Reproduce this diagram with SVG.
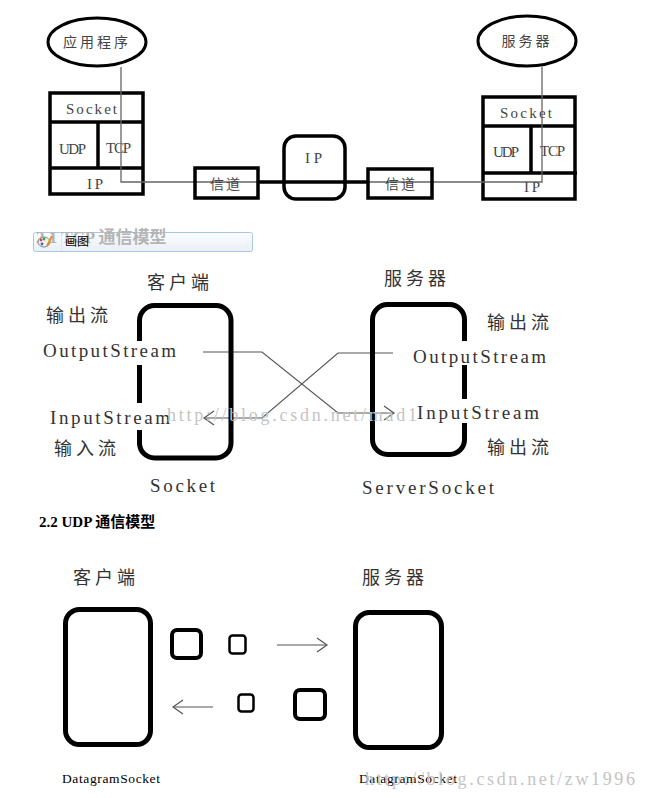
<svg xmlns="http://www.w3.org/2000/svg" width="647" height="798" viewBox="0 0 647 798">
<style>
.bg{fill:#ffffff}
.thick{fill:none;stroke:#000;stroke-width:3.5}
.box{fill:#fff;stroke:#000;stroke-width:3.5}
.rbox{fill:none;stroke:#000;stroke-width:5}
.thin{fill:none;stroke:#666;stroke-width:1.3}
.lbl{font-family:"Liberation Serif","DejaVu Serif",serif;fill:#444;font-size:15px}
.cjk{font-family:"Noto Sans CJK SC","Noto Sans",sans-serif;fill:#444}
.mid{font-family:"Liberation Serif","DejaVu Serif",serif;fill:#333;font-size:19px}
.midc{font-family:"Noto Sans CJK SC","Noto Sans",sans-serif;fill:#333;font-size:18px;letter-spacing:4px}
.wm{font-family:"Liberation Serif","DejaVu Serif",serif;fill:#c4c4c4;font-size:18px}
.ds{font-family:"Liberation Serif","DejaVu Serif",serif;fill:#000;font-size:13.5px}
.head{font-family:"Liberation Serif","Noto Sans CJK SC",serif;font-weight:bold}
</style>
<defs>
<marker id="chev" markerUnits="userSpaceOnUse" markerWidth="14" markerHeight="18" refX="11" refY="8" orient="auto">
<path d="M1,1 L11,8 L1,15" fill="none" stroke="#555" stroke-width="1.2"/>
</marker>
<linearGradient id="bar" x1="0" y1="0" x2="0" y2="1">
<stop offset="0" stop-color="#fbfdff"/>
<stop offset="1" stop-color="#eaeff6"/>
</linearGradient>
</defs>
<rect class="bg" x="0" y="0" width="647" height="798"/>

<!-- ===== Top: network stack ===== -->
<g id="app-left">
<ellipse cx="97" cy="42" rx="49" ry="24" fill="#fff" stroke="#000" stroke-width="3"/>
<text class="cjk" x="97" y="47" font-size="14" text-anchor="middle" letter-spacing="3">应用程序</text>
</g>
<g id="server-top">
<ellipse cx="527" cy="41" rx="49" ry="25" fill="#fff" stroke="#000" stroke-width="3"/>
<text class="cjk" x="527" y="46" font-size="14" text-anchor="middle" letter-spacing="3">服务器</text>
</g>
<g id="stack-left">
<rect class="box" x="50" y="93" width="93" height="101"/>
<line class="thick" x1="50" y1="122" x2="143" y2="122"/>
<line class="thick" x1="50" y1="168" x2="143" y2="168"/>
<line class="thick" x1="98" y1="122" x2="98" y2="168"/>
<text class="lbl" x="66" y="114" textLength="51" lengthAdjust="spacing">Socket</text>
<text class="lbl" x="59" y="154" textLength="27" lengthAdjust="spacing">UDP</text>
<text class="lbl" x="106" y="153" textLength="25" lengthAdjust="spacing">TCP</text>
<text class="lbl" x="87" y="189" textLength="16" lengthAdjust="spacing">IP</text>
</g>
<g id="stack-right">
<rect class="box" x="483" y="97" width="92" height="102"/>
<line class="thick" x1="483" y1="126" x2="575" y2="126"/>
<line class="thick" x1="483" y1="173" x2="577" y2="173"/>
<line class="thick" x1="531" y1="126" x2="531" y2="173"/>
<text class="lbl" x="500" y="118" textLength="52" lengthAdjust="spacing">Socket</text>
<text class="lbl" x="493" y="157" textLength="26" lengthAdjust="spacing">UDP</text>
<text class="lbl" x="540" y="156" textLength="25" lengthAdjust="spacing">TCP</text>
<text class="lbl" x="524" y="192" textLength="16" lengthAdjust="spacing">IP</text>
</g>
<g id="ip-router">
<rect x="284" y="136" width="61" height="63" rx="12" fill="#fff" stroke="#000" stroke-width="3.5"/>
<text class="lbl" x="305" y="163" textLength="17" lengthAdjust="spacing">IP</text>
</g>
<g id="connectors">
<polyline class="thin" points="121,67 121,182 259,182"/>
<polyline class="thin" points="367,182 542,182 542,67"/>
<line x1="259" y1="182" x2="368" y2="182" stroke="#000" stroke-width="3.5"/>
<polyline fill="none" stroke="#555" stroke-width="1.2" points="203,352 262,352 338,413 394,413" marker-end="url(#chev)"/>
<polyline fill="none" stroke="#555" stroke-width="1.2" points="393,353 338,353 262,418 204,418" marker-end="url(#chev)"/>
<line x1="277" y1="645" x2="327" y2="645" stroke="#555" stroke-width="1.2" marker-end="url(#chev)"/>
<line x1="213" y1="707" x2="173" y2="707" stroke="#555" stroke-width="1.2" marker-end="url(#chev)"/>
</g>
<g id="channel-left">
<rect x="195" y="168" width="63" height="30" fill="none" stroke="#000" stroke-width="3.5"/>
<text class="cjk" x="226" y="189" font-size="14" text-anchor="middle" letter-spacing="2">信道</text>
</g>
<g id="channel-right">
<rect x="368" y="169" width="64" height="29" fill="none" stroke="#000" stroke-width="3.5"/>
<text class="cjk" x="401" y="189" font-size="14" text-anchor="middle" letter-spacing="2">信道</text>
</g>

<!-- banner -->
<g id="banner">
<rect x="33.5" y="232.5" width="219" height="19" rx="2" fill="url(#bar)" stroke="#a9c6e8"/>
<text class="head" x="36" y="243" font-size="17" fill="#b4b4b4">2.1 TCP 通信模型</text>
<line x1="61.5" y1="234" x2="61.5" y2="250" stroke="#dde6f0"/>
<ellipse cx="44" cy="242" rx="6" ry="5" fill="#f4f0e8" stroke="#7a8aa0" stroke-width="1"/>
<circle cx="41" cy="240" r="1.4" fill="#e04040"/>
<circle cx="44" cy="239" r="1.4" fill="#40a040"/>
<circle cx="42" cy="244" r="1.4" fill="#4060e0"/>
<line x1="47" y1="246" x2="52" y2="236" stroke="#e09020" stroke-width="2"/>
<text x="65" y="246" font-family="Noto Sans CJK SC,sans-serif" font-size="12" fill="#000">画图</text>
</g>

<!-- ===== Middle: TCP model ===== -->
<g id="client-tcp">
<rect class="rbox" x="139.5" y="305.5" width="91.5" height="152.5" rx="15"/>
<rect x="132" y="341" width="16" height="24" fill="#fff"/>
<rect x="132" y="403" width="16" height="27" fill="#fff"/>
<text class="midc" x="180" y="289" text-anchor="middle">客户端</text>
<text class="midc" x="79" y="322" text-anchor="middle">输出流</text>
<text class="mid" x="43" y="357" textLength="133" lengthAdjust="spacing">OutputStream</text>
<text class="mid" x="50" y="424" textLength="120" lengthAdjust="spacing">InputStream</text>
<text class="midc" x="87" y="455" text-anchor="middle">输入流</text>
<text class="mid" x="150" y="492" textLength="65" lengthAdjust="spacing">Socket</text>
</g>
<g id="server-tcp">
<rect class="rbox" x="372.5" y="304.5" width="92" height="150" rx="15"/>
<rect x="458" y="341" width="16" height="24" fill="#fff"/>
<rect x="458" y="399" width="16" height="24" fill="#fff"/>
<text class="midc" x="417" y="285" text-anchor="middle">服务器</text>
<text class="midc" x="520" y="329" text-anchor="middle">输出流</text>
<text class="mid" x="413" y="363" textLength="133" lengthAdjust="spacing">OutputStream</text>
<text class="mid" x="417" y="419" textLength="122" lengthAdjust="spacing">InputStream</text>
<text class="midc" x="520" y="454" text-anchor="middle">输出流</text>
<text class="mid" x="362" y="494" textLength="132" lengthAdjust="spacing">ServerSocket</text>
</g>
<text class="wm" x="167" y="421" textLength="250" lengthAdjust="spacing">http://blog.csdn.net/mad1</text>

<text class="head" x="39" y="527" font-size="15" fill="#000">2.2 UDP 通信模型</text>

<!-- ===== Bottom: UDP model ===== -->
<g id="client-udp">
<rect class="rbox" x="65.5" y="609.5" width="85" height="135" rx="14"/>
<text class="midc" x="106" y="584" text-anchor="middle">客户端</text>
<text class="ds" x="62" y="783" textLength="98" lengthAdjust="spacing">DatagramSocket</text>
</g>
<g id="server-udp">
<rect class="rbox" x="355.5" y="612.5" width="86" height="135" rx="14"/>
<text class="midc" x="395" y="584" text-anchor="middle">服务器</text>
<text class="ds" x="359" y="783" textLength="98" lengthAdjust="spacing">DatagramSocket</text>
</g>
<g id="packets">
<rect x="172" y="630" width="29" height="28" rx="5" fill="none" stroke="#000" stroke-width="4"/>
<rect x="229.5" y="635.5" width="16" height="18" rx="3" fill="none" stroke="#000" stroke-width="2.5"/>
<rect x="238.5" y="694.5" width="15" height="17" rx="3" fill="none" stroke="#000" stroke-width="2.5"/>
<rect x="295" y="690" width="30" height="29" rx="5" fill="none" stroke="#000" stroke-width="4"/>
</g>
<text class="wm" x="365" y="785" textLength="270" lengthAdjust="spacing">http://blog.csdn.net/zw1996</text>
</svg>
